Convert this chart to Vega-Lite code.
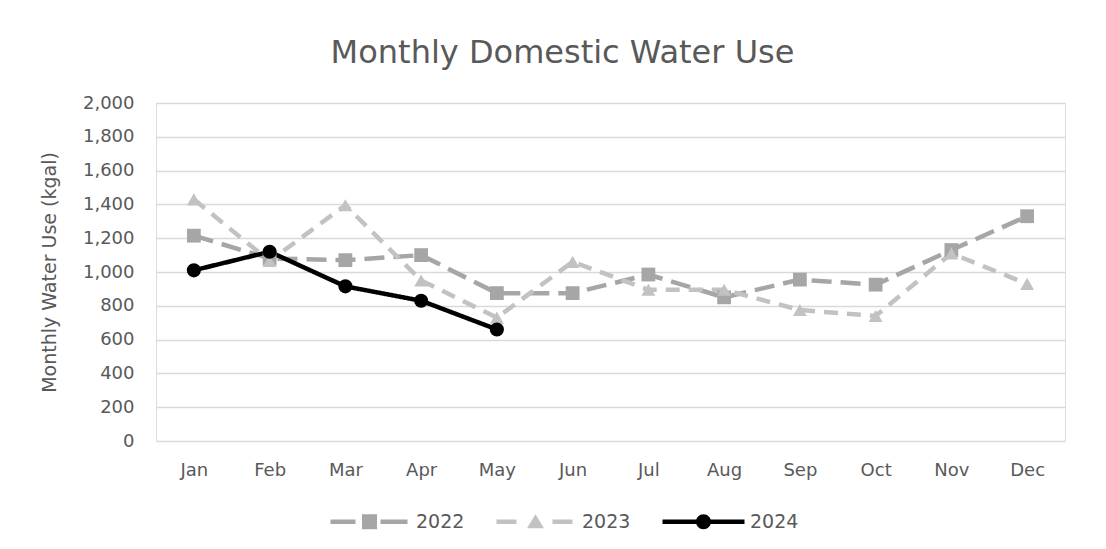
{
  "$schema": "https://vega.github.io/schema/vega-lite/v6.json",
  "autosize": {"type": "none"},
  "width": 909,
  "height": 338,
  "padding": {"left": 156, "top": 103, "right": 41, "bottom": 108},
  "background": "white",
  "title": {
    "text": "Monthly Domestic Water Use",
    "font": "DejaVu Sans",
    "fontSize": 32,
    "fontWeight": "normal",
    "color": "#595959",
    "anchor": "middle",
    "frame": "group",
    "dx": -48,
    "offset": 24
  },
  "data": {
    "values": [
      {"month": "Jan", "year": "2022", "value": 1215},
      {"month": "Feb", "year": "2022", "value": 1080},
      {"month": "Mar", "year": "2022", "value": 1070},
      {"month": "Apr", "year": "2022", "value": 1100},
      {"month": "May", "year": "2022", "value": 875},
      {"month": "Jun", "year": "2022", "value": 875},
      {"month": "Jul", "year": "2022", "value": 985},
      {"month": "Aug", "year": "2022", "value": 850},
      {"month": "Sep", "year": "2022", "value": 955},
      {"month": "Oct", "year": "2022", "value": 925},
      {"month": "Nov", "year": "2022", "value": 1130},
      {"month": "Dec", "year": "2022", "value": 1330},
      {"month": "Jan", "year": "2023", "value": 1430},
      {"month": "Feb", "year": "2023", "value": 1065},
      {"month": "Mar", "year": "2023", "value": 1395},
      {"month": "Apr", "year": "2023", "value": 950},
      {"month": "May", "year": "2023", "value": 730},
      {"month": "Jun", "year": "2023", "value": 1060},
      {"month": "Jul", "year": "2023", "value": 895},
      {"month": "Aug", "year": "2023", "value": 895},
      {"month": "Sep", "year": "2023", "value": 775},
      {"month": "Oct", "year": "2023", "value": 740},
      {"month": "Nov", "year": "2023", "value": 1110},
      {"month": "Dec", "year": "2023", "value": 930},
      {"month": "Jan", "year": "2024", "value": 1010},
      {"month": "Feb", "year": "2024", "value": 1120},
      {"month": "Mar", "year": "2024", "value": 915},
      {"month": "Apr", "year": "2024", "value": 830},
      {"month": "May", "year": "2024", "value": 660}
    ]
  },
  "encoding": {
    "x": {
      "field": "month",
      "type": "ordinal",
      "sort": ["Jan","Feb","Mar","Apr","May","Jun","Jul","Aug","Sep","Oct","Nov","Dec"],
      "scale": {"paddingInner": 0, "paddingOuter": 0.5},
      "axis": {
        "title": null,
        "labelAngle": 0,
        "labelFont": "DejaVu Sans",
        "labelFontSize": 18,
        "labelColor": "#595959",
        "labelPadding": 20,
        "ticks": false,
        "domain": false,
        "grid": false
      }
    },
    "y": {
      "field": "value",
      "type": "quantitative",
      "scale": {"domain": [0, 2000], "nice": false},
      "axis": {
        "title": "Monthly Water Use (kgal)",
        "titleFont": "DejaVu Sans",
        "titleFontSize": 19,
        "titleFontWeight": "normal",
        "titleColor": "#595959",
        "titlePadding": 23,
        "values": [0,200,400,600,800,1000,1200,1400,1600,1800,2000],
        "format": ",d",
        "labelFont": "DejaVu Sans",
        "labelFontSize": 18,
        "labelColor": "#595959",
        "labelPadding": 22,
        "ticks": false,
        "domain": false,
        "grid": true,
        "gridColor": "#D9D9D9",
        "gridWidth": 1.5
      }
    }
  },
  "resolve": {"scale": {"shape": "independent", "color": "independent"}},
  "layer": [
    {
      "mark": {"type": "line", "strokeWidth": 4.5, "strokeCap": "butt"},
      "encoding": {
        "color": {
          "field": "year",
          "type": "nominal",
          "scale": {"domain": ["2022","2023","2024"], "range": ["#A6A6A6","#C2C2C2","#000000"]},
          "legend": null
        },
        "strokeDash": {
          "field": "year",
          "type": "nominal",
          "scale": {"domain": ["2022","2023","2024"], "range": [[20, 9], [14, 9], [1, 0]]},
          "legend": null
        }
      }
    },
    {
      "mark": {"type": "point", "filled": true, "opacity": 1},
      "encoding": {
        "color": {
          "field": "year",
          "type": "nominal",
          "scale": {"domain": ["2022","2023","2024"], "range": ["#A6A6A6","#C2C2C2","#000000"]},
          "legend": null
        },
        "shape": {
          "field": "year",
          "type": "nominal",
          "scale": {"domain": ["2022","2023","2024"], "range": ["square","triangle-up","circle"]},
          "legend": null
        },
        "size": {
          "field": "year",
          "type": "nominal",
          "scale": {"domain": ["2022","2023","2024"], "range": [190, 200, 260]},
          "legend": null
        }
      }
    },
    {
      "transform": [{"filter": "datum.value < 0"}],
      "mark": {"type": "point", "filled": true, "opacity": 1, "strokeWidth": 0},
      "encoding": {
        "color": {
          "field": "year",
          "type": "nominal",
          "scale": {"domain": ["2022","2023","2024"], "range": ["#A6A6A6","#C2C2C2","#000000"]},
          "legend": {
            "title": null,
            "orient": "none",
            "direction": "horizontal",
            "legendX": 204,
            "legendY": 409,
            "padding": 0,
            "labelFont": "DejaVu Sans",
            "labelFontSize": 19,
            "labelColor": "#595959",
            "labelOffset": 37,
            "symbolSize": 4,
            "symbolStrokeWidth": 0,
            "columnPadding": 31
          }
        },
        "shape": {
          "field": "year",
          "type": "nominal",
          "scale": {
            "domain": ["2022","2023","2024"],
            "range": [
              "M-39,-2.3H-14V2.3H-39Z M-7.5,-7.5H7.5V7.5H-7.5Z M11,-2.3H38V2.3H11Z",
              "M-39,-2.3H-19V2.3H-39Z M0,-7.5L8.5,6.5H-8.5Z M17,-2.3H37V2.3H17Z",
              "M-41,-2.3H41V2.3H-41Z M7.5,0A7.5,7.5 0 1,1 -7.5,0A7.5,7.5 0 1,1 7.5,0Z"
            ]
          },
          "legend": {
            "title": null,
            "orient": "none",
            "direction": "horizontal",
            "legendX": 204,
            "legendY": 409,
            "padding": 0,
            "labelFont": "DejaVu Sans",
            "labelFontSize": 19,
            "labelColor": "#595959",
            "labelOffset": 37,
            "symbolSize": 4,
            "symbolStrokeWidth": 0,
            "columnPadding": 31
          }
        }
      }
    }
  ]
}
